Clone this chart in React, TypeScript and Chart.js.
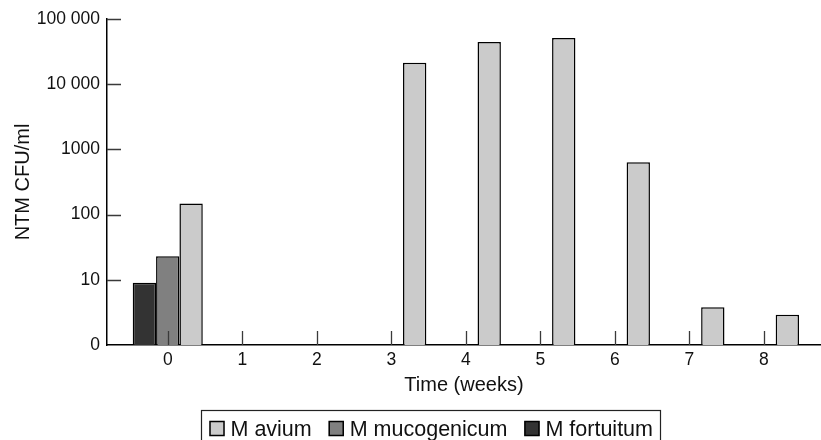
import React, { useEffect, useRef } from 'react';
import { Chart, registerables } from 'chart.js';

Chart.register(...registerables);

// ---- data ----
const weeks = [0, 1, 2, 3, 4, 5, 6, 7, 8];
const fortuitumWeeks = [0];
const fortuitumValues = [9.0];
const mucogenicumWeeks = [0];
const mucogenicumValues = [23];
const aviumWeeks = [0, 3, 4, 5, 6, 7, 8];
const aviumValues = [148, 21400, 44400, 51000, 634, 3.8, 2.9];
const yTickValues = [1, 10, 100, 1000, 10000, 100000];
const yTickLabels = ['0', '10', '100', '1000', '10 000', '100 000'];
const legendOrder = ['M avium', 'M mucogenicum', 'M fortuitum'];

const FONT = '"Liberation Sans", Arial, Helvetica, sans-serif';
const seriesColors: Record<string, string> = {
  'M fortuitum': '#333333',
  'M mucogenicum': '#808080',
  'M avium': '#cbcbcb',
};

const toPoints = (xs: number[], ys: number[]) => xs.map((x, i) => ({ x, y: ys[i] }));

const tickMarksPlugin = {
  id: 'tickMarks',
  afterDatasetsDraw(chart: any) {
    const { ctx, chartArea, scales } = chart;
    const xs = scales.x;
    const ys = scales.y;
    ctx.save();
    ctx.strokeStyle = '#3a3a3a';
    ctx.lineWidth = 1.3;
    ctx.beginPath();
    weeks.forEach((w) => {
      const px = Math.round(xs.getPixelForValue(w)) + 0.5;
      ctx.moveTo(px, chartArea.bottom - 14);
      ctx.lineTo(px, chartArea.bottom);
    });
    yTickValues.forEach((v) => {
      if (v === 1) return;
      const py = Math.round(ys.getPixelForValue(v)) + 0.5;
      ctx.moveTo(chartArea.left, py);
      ctx.lineTo(chartArea.left + 14, py);
    });
    ctx.stroke();
    ctx.restore();
  },
};

const boxLegendPlugin = {
  id: 'boxLegend',
  afterDraw(chart: any) {
    const { ctx } = chart;
    ctx.save();
    ctx.font = `21.5px ${FONT}`;
    ctx.textBaseline = 'alphabetic';
    const sw = 15;
    const gap = 6;
    const spacing = 17;
    const pad = 8;
    const widths = legendOrder.map((n) => ctx.measureText(n).width);
    const total =
      pad * 2 +
      widths.reduce((a: number, w: number) => a + sw + gap + w, 0) +
      spacing * (legendOrder.length - 1);
    const right = 660.5;
    const left = Math.round(right - total) + 0.5;
    const top = 410.5;
    ctx.strokeStyle = '#222';
    ctx.lineWidth = 1.2;
    ctx.strokeRect(left, top, right - left, 60);
    let x = left + pad;
    legendOrder.forEach((name, i) => {
      ctx.fillStyle = seriesColors[name];
      ctx.fillRect(x, 421, sw, sw);
      ctx.strokeStyle = '#000';
      ctx.lineWidth = 1.5;
      ctx.strokeRect(x + 0.5, 421.5, sw - 1, sw - 1);
      ctx.fillStyle = '#111';
      ctx.fillText(name, x + sw + gap, 436);
      x += sw + gap + widths[i] + spacing;
    });
    ctx.restore();
  },
};

export default function App() {
  const canvasRef = useRef<HTMLCanvasElement | null>(null);

  useEffect(() => {
    if (!canvasRef.current) return;
    Chart.defaults.font.family = FONT;
    Chart.defaults.color = '#111';
    const chart = new Chart(canvasRef.current, {
      type: 'bar',
      data: {
        datasets: [
          {
            label: 'M fortuitum',
            data: toPoints(fortuitumWeeks, fortuitumValues),
            backgroundColor: seriesColors['M fortuitum'],
            borderColor: '#000',
            borderWidth: 1.5,
          },
          {
            label: 'M mucogenicum',
            data: toPoints(mucogenicumWeeks, mucogenicumValues),
            backgroundColor: seriesColors['M mucogenicum'],
            borderColor: '#000',
            borderWidth: 1.5,
          },
          {
            label: 'M avium',
            data: toPoints(aviumWeeks, aviumValues),
            backgroundColor: seriesColors['M avium'],
            borderColor: '#000',
            borderWidth: 1.5,
          },
        ],
      },
      options: {
        animation: false,
        responsive: true,
        maintainAspectRatio: false,
        datasets: {
          bar: { categoryPercentage: 0.94, barPercentage: 1.0 },
        },
        layout: { padding: { top: 19, right: 0, left: 0, bottom: 0 } },
        plugins: {
          legend: { display: false },
          tooltip: { enabled: false },
        },
        scales: {
          x: {
            type: 'linear',
            offset: false,
            min: -0.815,
            max: 8.765,
            grid: { display: false, drawTicks: false, offset: false },
            border: { display: true, color: '#000', width: 1.5 },
            afterBuildTicks: (scale: any) => {
              scale.ticks = weeks.map((w) => ({ value: w }));
            },
            afterFit: (scale: any) => {
              scale.height = 95;
            },
            ticks: {
              padding: 5,
              font: { size: 17.5 },
              color: '#111',
              callback: (v: any) => String(v),
            },
            title: {
              display: true,
              text: 'Time (weeks)',
              font: { size: 20 },
              color: '#111',
              padding: { top: 0, bottom: 43 },
            },
          },
          y: {
            type: 'logarithmic',
            min: 1,
            max: 100000,
            grid: { display: false, drawTicks: false },
            border: { display: true, color: '#000', width: 1.5 },
            afterBuildTicks: (scale: any) => {
              scale.ticks = yTickValues.map((v) => ({ value: v }));
            },
            afterFit: (scale: any) => {
              scale.width = 107;
            },
            ticks: {
              padding: 7,
              font: { size: 17.5 },
              color: '#111',
              callback: (_v: any, i: number) => yTickLabels[i],
            },
            title: {
              display: true,
              text: 'NTM CFU/ml',
              font: { size: 20 },
              color: '#111',
              padding: { top: 11, bottom: 0 },
            },
          },
        },
      },
      plugins: [tickMarksPlugin, boxLegendPlugin],
    } as any);
    return () => chart.destroy();
  }, []);

  return (
    <div style={{ position: 'absolute', left: 0, top: 0, width: 821, height: 440, background: '#fff' }}>
      <canvas ref={canvasRef} />
    </div>
  );
}
